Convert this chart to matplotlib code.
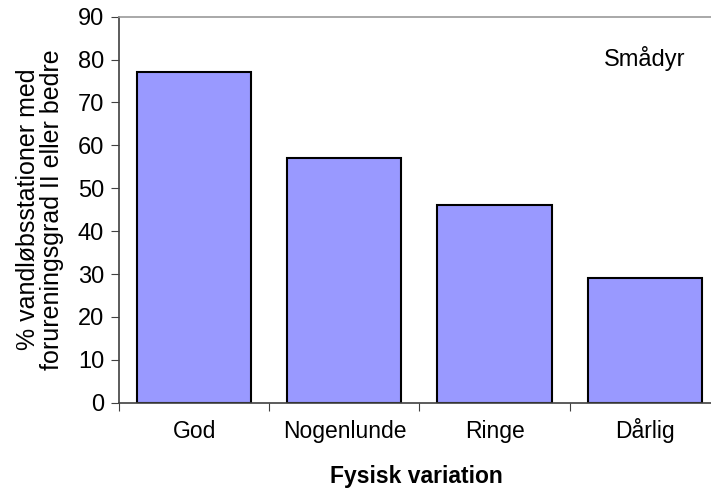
import matplotlib.pyplot as plt
import numpy as np

plt.rcParams['font.family'] = ['Liberation Sans', 'DejaVu Sans']

categories = ['God', 'Nogenlunde', 'Ringe', 'Dårlig']
values = [77, 57, 46, 29]
y_ticks = list(range(0, 91, 10))

fig = plt.figure(figsize=(7.11, 4.90), dpi=100)
ax = fig.add_axes([0.168, 0.178, 0.844, 0.788])

x = np.arange(len(categories))
ax.bar(x, values, width=0.76, color='#9999FF', edgecolor='black', linewidth=1.5)

ax.set_xlim(-0.5, len(categories) - 0.5)
ax.set_ylim(0, 90)
ax.set_yticks(y_ticks)
ax.set_xticks(np.arange(len(categories) + 1) - 0.5)
ax.set_xticklabels([])
ax.set_xticks(x, minor=True)
ax.set_xticklabels(categories, minor=True)
for lab in ax.get_xticklabels(minor=True):
    lab.set_va('baseline')
ax.tick_params(axis='x', which='minor', length=0, pad=25, labelsize=16.5)
ax.tick_params(axis='x', which='major', length=6, direction='out', color='#404040')
ax.tick_params(axis='y', length=6, pad=5, direction='out', labelsize=17, color='#404040')

ax.spines['right'].set_visible(False)
ax.spines['top'].set_color('#999999')
ax.spines['top'].set_linewidth(1.2)
for side in ['left', 'bottom']:
    ax.spines[side].set_color('#404040')
    ax.spines[side].set_linewidth(1.2)

ax.set_ylabel('% vandløbsstationer med\nforureningsgrad II eller bedre',
              fontsize=18, linespacing=1.0)
ax.yaxis.label.set_va('center')
ax.yaxis.set_label_coords(-0.133, 0.5)
ax.set_xlabel('Fysisk variation', fontsize=16.5, fontweight='bold')
ax.xaxis.label.set_va('baseline')
ax.xaxis.set_label_coords(0.494, -0.207)

ax.text(3.0, 78.6, 'Smådyr', fontsize=17, ha='center', va='baseline')

fig.savefig('out.png', dpi=100)
